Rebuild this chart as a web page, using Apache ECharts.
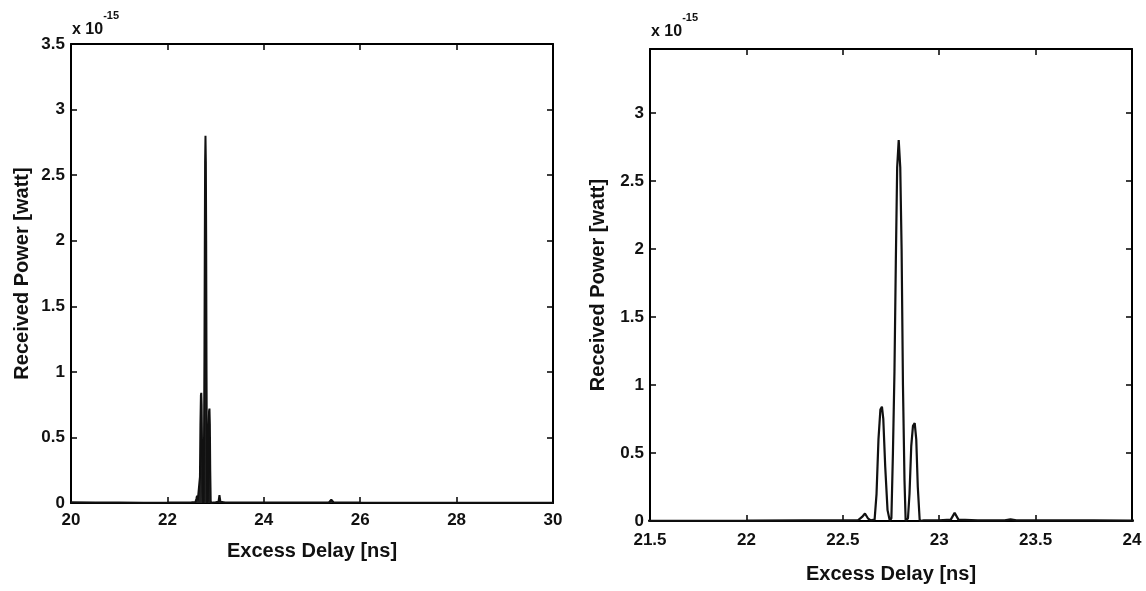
<!DOCTYPE html>
<html>
<head>
<meta charset="utf-8">
<script src="https://cdn.jsdelivr.net/npm/echarts@6/dist/echarts.min.js"></script>
<style>
  html, body { margin: 0; padding: 0; background: #fff; }
  #chart { width: 1146px; height: 591px; }
</style>
</head>
<body>
<div id="chart"></div>
<script>
// excess delay in ns, received power in units of 1e-15 watt
var delayNs = [
  20.0, 20.5, 21.0, 21.5, 22.0, 22.3, 22.5, 22.58, 22.6, 22.615, 22.63, 22.645,
  22.665, 22.675, 22.685, 22.695, 22.703, 22.71, 22.72, 22.732, 22.744,
  22.752, 22.76, 22.768, 22.775, 22.782, 22.79, 22.798, 22.805, 22.812, 22.82, 22.826,
  22.838, 22.846, 22.855, 22.864, 22.873, 22.881, 22.889, 22.899,
  22.92, 22.95, 23.0, 23.06, 23.08, 23.10, 23.2, 23.34, 23.37, 23.40,
  23.6, 23.8, 24.0, 24.5, 25.0, 25.35, 25.4, 25.45, 26.0, 27.0, 28.0, 29.0, 30.0
];
var powerFw = [
  0.005, 0.004, 0.003, 0.002, 0.003, 0.004, 0.005, 0.006, 0.03, 0.055, 0.02, 0.005,
  0.01, 0.2, 0.6, 0.82, 0.84, 0.75, 0.4, 0.08, 0.0,
  0.02, 0.5, 1.1, 1.9, 2.6, 2.8, 2.6, 2.0, 1.0, 0.3, 0.0,
  0.02, 0.2, 0.55, 0.7, 0.72, 0.6, 0.25, 0.0,
  0.005, 0.004, 0.005, 0.01, 0.06, 0.01, 0.004, 0.004, 0.012, 0.004,
  0.004, 0.004, 0.003, 0.003, 0.003, 0.004, 0.025, 0.004, 0.003, 0.002, 0.002, 0.002, 0.002
];

var seriesData = delayNs.map(function (d, i) { return [d, powerFw[i]]; });

var labelFont = "'Liberation Sans Narrow', 'Liberation Sans', Arial, sans-serif";
var titleFont = "'Liberation Sans', Arial, sans-serif";

function boxAxis(gridIndex, pos, min, max, interval) {
  return {
    type: 'value', gridIndex: gridIndex, position: pos,
    min: min, max: max, interval: interval,
    axisLine: { show: true, onZero: false, lineStyle: { color: '#000', width: 2 } },
    axisTick: { show: true, inside: true, length: 6, lineStyle: { color: '#000', width: 1.5 } },
    axisLabel: { show: false },
    splitLine: { show: false }
  };
}

var myChart = echarts.init(document.getElementById('chart'));
myChart.setOption({
  animation: false,
  backgroundColor: '#fff',
  grid: [
    { left: 71, top: 44, width: 482, height: 459 },
    { left: 650, top: 49, width: 482, height: 472 }
  ],
  xAxis: [
    {
      type: 'value', gridIndex: 0, position: 'bottom', min: 20, max: 30, interval: 2,
      name: 'Excess Delay [ns]', nameLocation: 'middle', nameGap: 38,
      nameTextStyle: { fontFamily: titleFont, fontWeight: 'bold', fontSize: 20, color: '#111' },
      axisLine: { show: true, onZero: false, lineStyle: { color: '#000', width: 2 } },
      axisTick: { show: true, inside: true, length: 6, lineStyle: { color: '#000', width: 1.5 } },
      axisLabel: { margin: 9, fontFamily: labelFont, fontWeight: 'bold', fontSize: 17, color: '#111' },
      splitLine: { show: false }
    },
    boxAxis(0, 'top', 20, 30, 2),
    {
      type: 'value', gridIndex: 1, position: 'bottom', min: 21.5, max: 24, interval: 0.5,
      name: 'Excess Delay [ns]', nameLocation: 'middle', nameGap: 43,
      nameTextStyle: { fontFamily: titleFont, fontWeight: 'bold', fontSize: 20, color: '#111' },
      axisLine: { show: true, onZero: false, lineStyle: { color: '#000', width: 2 } },
      axisTick: { show: true, inside: true, length: 6, lineStyle: { color: '#000', width: 1.5 } },
      axisLabel: { margin: 11, fontFamily: labelFont, fontWeight: 'bold', fontSize: 17, color: '#111' },
      splitLine: { show: false }
    },
    boxAxis(1, 'top', 21.5, 24, 0.5)
  ],
  yAxis: [
    {
      type: 'value', gridIndex: 0, position: 'left', min: 0, max: 3.5, interval: 0.5,
      name: 'Received Power [watt]', nameLocation: 'middle', nameGap: 39, nameRotate: 90,
      nameTextStyle: { fontFamily: titleFont, fontWeight: 'bold', fontSize: 20, color: '#111' },
      axisLine: { show: true, onZero: false, lineStyle: { color: '#000', width: 2 } },
      axisTick: { show: true, inside: true, length: 6, lineStyle: { color: '#000', width: 1.5 } },
      axisLabel: { margin: 6, fontFamily: labelFont, fontWeight: 'bold', fontSize: 17, color: '#111' },
      splitLine: { show: false }
    },
    boxAxis(0, 'right', 0, 3.5, 0.5),
    {
      type: 'value', gridIndex: 1, position: 'left', min: 0, max: 3.47, interval: 0.5,
      name: 'Received Power [watt]', nameLocation: 'middle', nameGap: 42, nameRotate: 90,
      nameTextStyle: { fontFamily: titleFont, fontWeight: 'bold', fontSize: 20, color: '#111' },
      axisLine: { show: true, onZero: false, lineStyle: { color: '#000', width: 2 } },
      axisTick: { show: true, inside: true, length: 6, lineStyle: { color: '#000', width: 1.5 } },
      axisLabel: { margin: 6, showMaxLabel: false, fontFamily: labelFont, fontWeight: 'bold', fontSize: 17, color: '#111' },
      splitLine: { show: false }
    },
    boxAxis(1, 'right', 0, 3.47, 0.5)
  ],
  graphic: [
    {
      type: 'text', left: 72, top: 10,
      style: {
        text: '{b|x 10}{s|-15}',
        rich: {
          b: { fontFamily: labelFont, fontWeight: 'bold', fontSize: 16, fill: '#111', padding: [12, 0, 0, 0] },
          s: { fontFamily: labelFont, fontWeight: 'bold', fontSize: 11, fill: '#111', verticalAlign: 'top' }
        }
      }
    },
    {
      type: 'text', left: 651, top: 12,
      style: {
        text: '{b|x 10}{s|-15}',
        rich: {
          b: { fontFamily: labelFont, fontWeight: 'bold', fontSize: 16, fill: '#111', padding: [12, 0, 0, 0] },
          s: { fontFamily: labelFont, fontWeight: 'bold', fontSize: 11, fill: '#111', verticalAlign: 'top' }
        }
      }
    }
  ],
  series: [
    {
      type: 'line', xAxisIndex: 0, yAxisIndex: 0, data: seriesData,
      showSymbol: false, clip: true,
      lineStyle: { color: '#111', width: 2 },
      areaStyle: { color: '#222', opacity: 1 }
    },
    {
      type: 'line', xAxisIndex: 2, yAxisIndex: 2, data: seriesData,
      showSymbol: false, clip: true,
      lineStyle: { color: '#111', width: 2.2 }
    }
  ]
});
</script>
</body>
</html>
